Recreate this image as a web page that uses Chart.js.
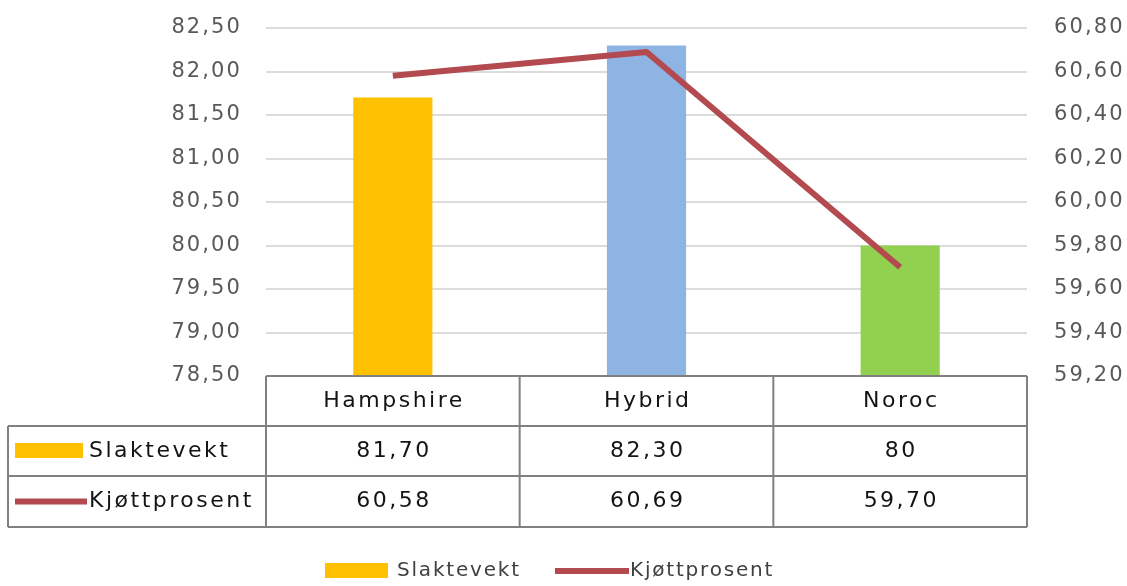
<!DOCTYPE html>
<html>
<head>
<meta charset="utf-8">
<script src="https://cdn.jsdelivr.net/npm/chart.js@4/dist/chart.umd.min.js"></script>
<style>
html,body{margin:0;padding:0;background:#fff;}
#wrap{width:1127px;height:586px;position:relative;}
</style>
</head>
<body>
<div id="wrap"><canvas id="c" width="1127" height="586"></canvas></div>
<script>
const categories = ['Hampshire', 'Hybrid', 'Noroc'];
const slaktevekt = [81.70, 82.30, 80.00];
const kjottprosent = [60.58, 60.69, 59.70];
const slaktevektLabels = ['81,70', '82,30', '80'];
const kjottprosentLabels = ['60,58', '60,69', '59,70'];
const seriesNames = ['Slaktevekt', 'Kjøttprosent'];
const barColors = ['#FFC000', '#8DB4E2', '#92D050'];
const lineColor = '#B34A4F';

const FONT = '"DejaVu Sans", sans-serif';
const fmt = v => v.toFixed(2).replace('.', ',');

const tablePlugin = {
  id: 'tablePlugin',
  beforeDraw(chart) {
    chart.ctx.letterSpacing = '2.1px';
  },
  afterDraw(chart) {
    const ctx = chart.ctx;
    const ca = chart.chartArea;
    const xs = chart.scales.x;
    const n = categories.length;
    const bounds = [ca.left];
    for (let i = 0; i < n - 1; i++) {
      bounds.push((xs.getPixelForValue(i) + xs.getPixelForValue(i + 1)) / 2);
    }
    bounds.push(ca.right);
    const top = ca.bottom;
    const rows = [top, top + 50, top + 100, top + 151];
    const leftX = 8;

    ctx.save();
    ctx.strokeStyle = '#808080';
    ctx.lineWidth = 2;
    ctx.beginPath();
    ctx.moveTo(bounds[0], rows[0]); ctx.lineTo(bounds[n], rows[0]);
    for (let r = 1; r < rows.length; r++) {
      ctx.moveTo(leftX, rows[r]); ctx.lineTo(bounds[n], rows[r]);
    }
    for (let b = 0; b <= n; b++) {
      ctx.moveTo(bounds[b], rows[0]); ctx.lineTo(bounds[b], rows[3]);
    }
    ctx.moveTo(leftX, rows[1]); ctx.lineTo(leftX, rows[3]);
    ctx.stroke();

    ctx.letterSpacing = '2.5px';
    ctx.font = '22px ' + FONT;
    ctx.fillStyle = '#141414';
    ctx.textAlign = 'center';
    ctx.textBaseline = 'middle';
    for (let i = 0; i < n; i++) {
      const cx = (bounds[i] + bounds[i + 1]) / 2 + 1.2;
      ctx.fillText(categories[i], cx, (rows[0] + rows[1]) / 2);
      ctx.fillText(slaktevektLabels[i], cx, (rows[1] + rows[2]) / 2);
      ctx.fillText(kjottprosentLabels[i], cx, (rows[2] + rows[3]) / 2);
    }
    ctx.textAlign = 'left';
    ctx.fillText(seriesNames[0], 89, (rows[1] + rows[2]) / 2);
    ctx.fillText(seriesNames[1], 89, (rows[2] + rows[3]) / 2);
    ctx.fillStyle = barColors[0];
    ctx.fillRect(15, (rows[1] + rows[2]) / 2 - 8, 68, 15);
    ctx.fillStyle = lineColor;
    ctx.fillRect(15, (rows[2] + rows[3]) / 2 - 3, 72, 6);

    const ly = 571;
    ctx.letterSpacing = '1.8px';
    ctx.font = '20px ' + FONT;
    ctx.fillStyle = barColors[0];
    ctx.fillRect(325, ly - 8, 63, 15);
    ctx.fillStyle = '#404040';
    ctx.fillText(seriesNames[0], 397, ly);
    ctx.fillStyle = lineColor;
    ctx.fillRect(555, ly - 3, 74, 6);
    ctx.fillStyle = '#404040';
    ctx.fillText(seriesNames[1], 630, ly);
    ctx.restore();
  }
};

new Chart(document.getElementById('c'), {
  data: {
    labels: categories,
    datasets: [
      {
        type: 'line',
        label: seriesNames[1],
        data: kjottprosent,
        yAxisID: 'y1',
        borderColor: lineColor,
        backgroundColor: lineColor,
        borderWidth: 6,
        pointRadius: 0,
        tension: 0,
        borderJoinStyle: 'round',
        borderCapStyle: 'butt',
        order: 0
      },
      {
        type: 'bar',
        label: seriesNames[0],
        data: slaktevekt,
        yAxisID: 'y',
        backgroundColor: barColors,
        borderWidth: 0,
        categoryPercentage: 1,
        barPercentage: 0.312,
        order: 1
      }
    ]
  },
  options: {
    responsive: false,
    animation: false,
    devicePixelRatio: 1,
    layout: { padding: { top: 28, bottom: 210, left: 0, right: 0 } },
    plugins: { legend: { display: false }, tooltip: { enabled: false } },
    scales: {
      x: { type: 'category', display: false, offset: true },
      y: {
        position: 'left',
        min: 78.5, max: 82.5,
        border: { display: false },
        grid: { color: '#dcdcdc', lineWidth: 2, drawTicks: false },
        ticks: {
          stepSize: 0.5,
          padding: 24,
          color: '#595959',
          font: { family: FONT, size: 21 },
          callback: v => fmt(v)
        },
        afterFit(s) { s.width = 266; s.paddingTop = 0; s.paddingBottom = 0; }
      },
      y1: {
        position: 'right',
        min: 59.2, max: 60.8,
        border: { display: false },
        grid: { display: false, drawTicks: false },
        ticks: {
          stepSize: 0.2,
          padding: 27,
          color: '#595959',
          font: { family: FONT, size: 21 },
          callback: v => fmt(v)
        },
        afterFit(s) { s.width = 100; s.paddingTop = 0; s.paddingBottom = 0; }
      }
    }
  },
  plugins: [tablePlugin]
});
</script>
</body>
</html>
